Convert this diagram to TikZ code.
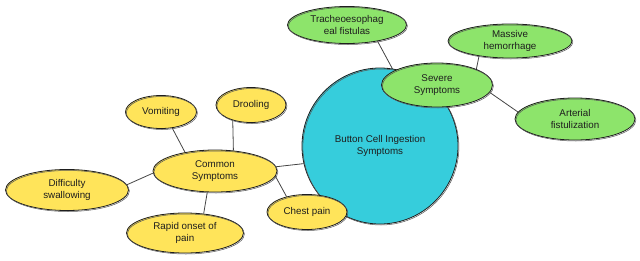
\documentclass[tikz,border=0pt]{standalone}
\usepackage{fontspec}
\setmainfont{Liberation Sans}
\usetikzlibrary{shapes.geometric}
\definecolor{yel}{HTML}{FFE45A}
\definecolor{grn}{HTML}{8DE46B}
\definecolor{cyn}{HTML}{36CDDC}
\definecolor{ink}{HTML}{1E1E1E}
\definecolor{edgec}{HTML}{444444}
\pgfdeclarelayer{bg}
\pgfsetlayers{bg,main}
\begin{document}
\begin{tikzpicture}[x=1pt,y=-1pt,
  bubble/.style={ellipse,draw=ink,line width=0.8pt,inner sep=0pt,align=center,
    font=\fontsize{9.8}{11.5}\selectfont,text=ink,
    postaction={draw=ink!75,line width=0.5pt,transform canvas={shift={(0.9pt,-1pt)}}}},
  yb/.style={bubble,fill=yel},
  gb/.style={bubble,fill=grn},
  link/.style={draw=edgec,line width=0.8pt}]
\useasboundingbox (0,0) rectangle (640,260);
% central
\node[bubble,fill=cyn,circle,minimum size=156pt] (main) at (380,146) {Button Cell Ingestion\\Symptoms};
% severe group
\node[gb,minimum width=111pt,minimum height=44pt] (severe) at (437,85) {Severe\\Symptoms};
\node[gb,minimum width=119pt,minimum height=37pt] (tracheo) at (347,25) {Tracheoesophag\\eal fistulas};
\node[gb,minimum width=124pt,minimum height=34pt] (massive) at (510,41) {Massive\\hemorrhage};
\node[gb,minimum width=120pt,minimum height=42pt] (arterial) at (575,119) {Arterial\\fistulization};
% common group
\node[yb,minimum width=124pt,minimum height=42pt] (common) at (215,171) {Common\\Symptoms};
\node[yb,minimum width=71pt,minimum height=33pt] (vomit) at (161,112) {Vomiting};
\node[yb,minimum width=70pt,minimum height=35pt] (drool) at (251,105) {Drooling};
\node[yb,minimum width=123pt,minimum height=41pt] (diff) at (67,190) {Difficulty\\swallowing};
\node[yb,minimum width=117pt,minimum height=40pt] (rapid) at (185,233) {Rapid onset of\\pain};
\node[yb,minimum width=80pt,minimum height=35pt] (chest) at (307,212) {Chest pain};
\begin{pgfonlayer}{bg}
\draw[link] (common.4) -- (main.193);
\draw[link] (common.148) -- (vomit.-55);
\draw[link] (common.48) -- (drool.-140);
\draw[link] (common.182) -- (diff.5);
\draw[link] (common.-110) -- (rapid.46);
\draw[link] (common.-5) -- (chest.143);
\draw[link] (severe.162) -- (tracheo.-28);
\draw[link] (severe.22) -- (massive.206);
\draw[link] (severe.-8) -- (arterial.173);
\end{pgfonlayer}
\end{tikzpicture}
\end{document}
